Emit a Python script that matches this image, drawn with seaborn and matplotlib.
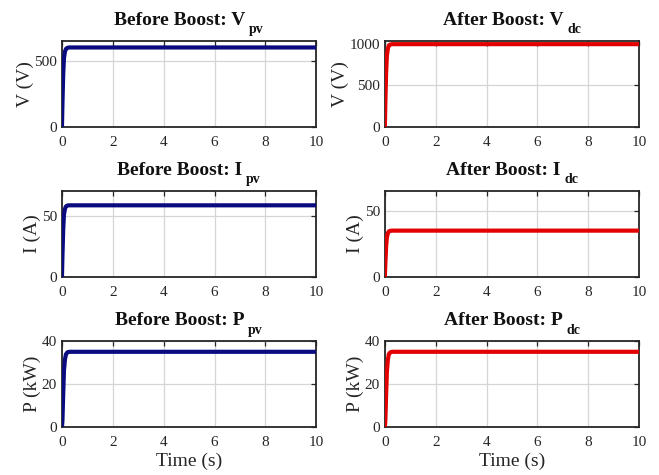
import numpy as np
import pandas as pd
import matplotlib
matplotlib.use("Agg")
import matplotlib.pyplot as plt
import seaborn as sns
from matplotlib.transforms import offset_copy

# Simulation samples (time in seconds)
t = [0, 0.02, 0.05, 0.08, 0.12, 0.16, 0.22, 0.30, 0.40, 10]

# Before boost (PV side)
v_pv = [0, 180, 400, 520, 570, 590, 598, 600, 600, 600]
i_pv = [0, 17.5, 39, 51, 55.5, 57.5, 58.2, 58.3, 58.3, 58.3]
p_pv = [0, 3.2, 15.5, 26.5, 31.6, 33.9, 34.8, 35, 35, 35]

# After boost (DC link)
v_dc = [0, 300, 660, 860, 950, 985, 997, 1000, 1000, 1000]
i_dc = [0, 10.5, 23, 30, 33.2, 34.5, 34.9, 35, 35, 35]
p_dc = [0, 3.2, 15.2, 25.8, 31.5, 34, 34.8, 35, 35, 35]

title_main = [["Before Boost: V", "After Boost: V"],
              ["Before Boost: I", "After Boost: I"],
              ["Before Boost: P", "After Boost: P"]]
title_sub = ["pv", "dc"]
ylabels = ["V (V)", "I (A)", "P (kW)"]
series = [[v_pv, v_dc], [i_pv, i_dc], [p_pv, p_dc]]
ylims = [[650, 1040], [70, 65], [40, 40]]
yticks = [[[0, 500], [0, 500, 1000]], [[0, 50], [0, 50]], [[0, 20, 40], [0, 20, 40]]]
x_ticks = [0, 2, 4, 6, 8, 10]
colors = ["#0b0b80", "#e30000"]

sns.set_theme(style="whitegrid")
plt.rcParams["font.family"] = ["Liberation Serif", "DejaVu Serif"]

fig = plt.figure(figsize=(6.59, 4.75), dpi=100)
fig.patch.set_facecolor("white")
renderer = fig.canvas.get_renderer()


def draw_title(ax, main, sub):
    """Bold title with a lowered subscript, centred as one block."""
    base = ax.transAxes
    t1 = ax.text(0.5, 1.0, main, transform=base, ha="left", va="baseline",
                 fontsize=14, fontweight="bold", color="#111111")
    t2 = ax.text(0.5, 1.0, sub, transform=base, ha="left", va="baseline",
                 fontsize=10, fontweight="bold", color="#111111")
    w1 = t1.get_window_extent(renderer).width
    w2 = t2.get_window_extent(renderer).width
    gap = 3.5
    left = -(w1 + gap + w2) / 2
    t1.set_transform(offset_copy(base, fig=fig, x=left, y=16, units="dots"))
    t2.set_transform(offset_copy(base, fig=fig, x=left + w1 + gap, y=7.5,
                                 units="dots"))


lefts = [0.094, 0.584]
width = 0.386
bottoms = [0.733, 0.417, 0.101]
height = 0.181

for r in range(3):
    for c in range(2):
        ax = fig.add_axes([lefts[c], bottoms[r], width, height])
        ax.set_facecolor("white")
        df = pd.DataFrame({"t": t, "y": series[r][c]})
        sns.lineplot(data=df, x="t", y="y", ax=ax, color=colors[c],
                     linewidth=3.0, zorder=3)
        ax.set_xlim(0, 10)
        ax.set_ylim(0, ylims[r][c])
        ax.set_xticks(x_ticks)
        ax.set_yticks(yticks[r][c])
        ax.grid(True, color="#d6d6d6", linewidth=0.9)
        for s in ax.spines.values():
            s.set_visible(True)
            s.set_color("#262626")
            s.set_linewidth(1.3)
        ax.tick_params(axis="both", direction="in", length=3.5, width=0.9,
                       color="#262626", labelsize=11, labelcolor="#262626",
                       top=True, right=True)
        ax.tick_params(axis="x", pad=6.5)
        ax.tick_params(axis="y", pad=3.5)
        draw_title(ax, title_main[r][c], title_sub[c])
        ax.set_ylabel(ylabels[r], fontsize=14, color="#262626", labelpad=0.5)
        if r == 2:
            ax.set_xlabel("Time (s)", fontsize=14, color="#262626", labelpad=2.5)
        else:
            ax.set_xlabel("")

fig.savefig("out.png", dpi=100, facecolor="white")
